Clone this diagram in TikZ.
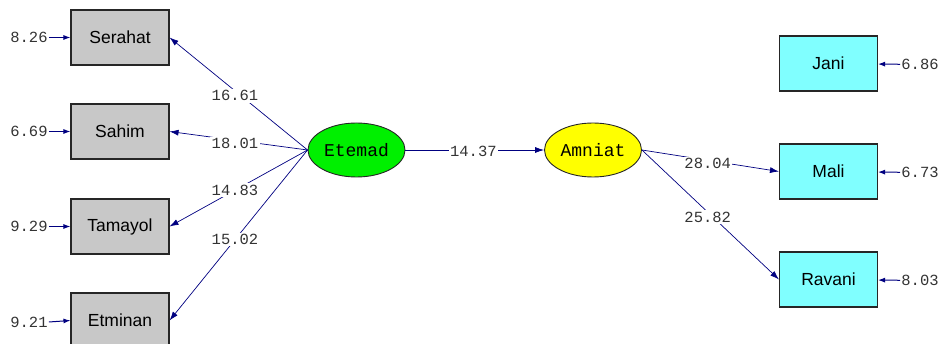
\documentclass[tikz,border=0pt]{standalone}
\usepackage{fontspec}
\setmainfont{Liberation Sans}
\setmonofont{Liberation Mono}
\usetikzlibrary{arrows.meta,shapes.geometric}
\definecolor{pathblue}{RGB}{0,0,128}
\definecolor{obsgray}{RGB}{200,200,200}
\definecolor{obscyan}{RGB}{128,255,255}
\definecolor{latgreen}{RGB}{0,240,0}
\definecolor{latyellow}{RGB}{255,255,0}
\tikzset{
    >={Latex[length=9pt,width=6pt]},
    obs/.style={rectangle,draw=black!85,line width=1.1pt,minimum width=98pt,minimum height=55pt,inner sep=0pt,font=\fontsize{17.5}{20}\selectfont},
    latent/.style={ellipse,draw=black!85,line width=0.9pt,minimum width=97pt,minimum height=54pt,inner sep=0pt,font=\ttfamily\fontsize{18}{20}\selectfont},
    errval/.style={inner sep=1pt,text=black!80,font=\ttfamily\fontsize{15.5}{18}\selectfont},
    coef/.style={fill=white,inner sep=1.5pt,text=black!80,font=\ttfamily\fontsize{15.5}{18}\selectfont},
    every edge/.append style={draw=pathblue,line width=0.7pt},
    err/.style={draw=pathblue,line width=1pt,-{Latex[length=7pt,width=5pt]}},
}
\begin{document}
\begin{tikzpicture}[x=1pt,y=-1pt]
\useasboundingbox (0,0) rectangle (940,344);

           % indicators of Etemad
           \node[obs,fill=obsgray] (Serahat) at (120, 37.5) {Serahat};
           \node[obs,fill=obsgray] (Sahim) at (120, 131.5) {Sahim};
           \node[obs,fill=obsgray] (Tamayol) at (120, 226.5) {Tamayol};
           \node[obs,fill=obsgray] (Etminan) at (120, 320.5) {Etminan};
           \node[errval] (eSerahat) at (29, 37.5) {8.26};
           \node[errval] (eSahim) at (29, 131.5) {6.69};
           \node[errval] (eTamayol) at (29, 226.5) {9.29};
           \node[errval] (eEtminan) at (29, 322) {9.21};

           % latent variables
           \node[latent,fill=latgreen] (Etemad) at (356.5, 150) {Etemad};
           \node[latent,fill=latyellow] (Amniat) at (593, 150) {Amniat};

           % indicators of Amniat
           \node[obs,fill=obscyan] (Jani) at (828.5, 63.5) {Jani};
           \node[obs,fill=obscyan] (Mali) at (828.5, 171.5) {Mali};
           \node[obs,fill=obscyan] (Ravani) at (828.5, 279.5) {Ravani};
           \node[errval] (eJani) at (920, 64.5) {6.86};
           \node[errval] (eMali) at (920, 172.5) {6.73};
           \node[errval] (eRavani) at (920, 280.5) {8.03};

           \path (Etemad.west) edge[->] node[coef,pos=0.526,yshift=-5pt] {16.61} (Serahat.east)
                 (Etemad.west) edge[->] node[coef,pos=0.526,yshift=-3pt] {18.01} (Sahim.east)
                 (Etemad.west) edge[->] node[coef,pos=0.526] {14.83} (Tamayol.east)
                 (Etemad.west) edge[->] node[coef,pos=0.526] {15.02} (Etminan.east)
                 (Etemad.east) edge[->] node[coef,pos=0.49,yshift=-1pt] {14.37} (Amniat.west)
                 (Amniat.east) edge[->] node[coef,pos=0.48,yshift=-3pt] {28.04} (Mali.west)
                 (Amniat.east) edge[->] node[coef,pos=0.48,yshift=-5pt] {25.82} (Ravani.west);

\draw[err] (eSerahat) -- (Serahat);
\draw[err] (eSahim) -- (Sahim);
\draw[err] (eTamayol) -- (Tamayol);
\draw[err] (eEtminan.east) -- (Etminan.west);
\draw[err] (eJani) -- (Jani);
\draw[err] (eMali) -- (Mali);
\draw[err] (eRavani) -- (Ravani);

       \end{tikzpicture}
\end{document}
